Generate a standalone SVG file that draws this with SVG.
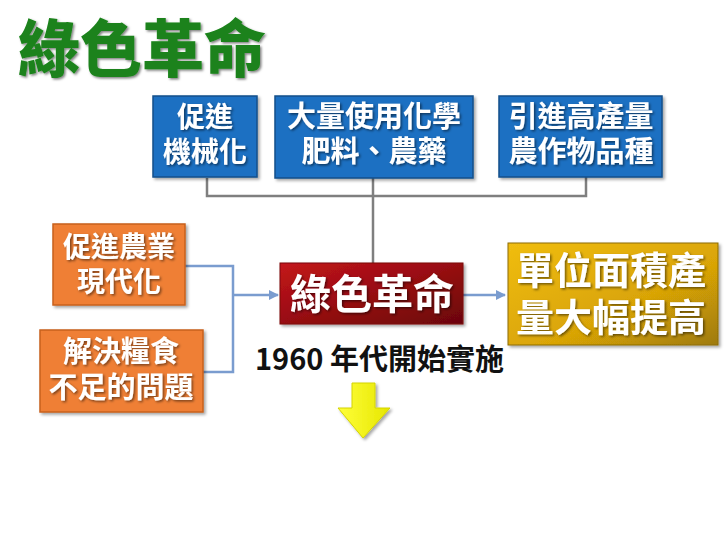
<svg xmlns="http://www.w3.org/2000/svg" width="728" height="546" viewBox="0 0 728 546">
<defs>
  <style>
    .cjk { font-family: "Noto Sans CJK TC", "Noto Sans CJK SC", sans-serif; }
    .wt { fill: #ffffff; font-weight: 700; text-anchor: middle; }
    .blue { fill: #1b6fc2; stroke: #154f8a; stroke-width: 1.5; }
    .orange { fill: #ef7f34; stroke: #c8601c; stroke-width: 1.5; }
    .gline { fill: none; stroke: #7f7f7f; stroke-width: 2.5; }
    .bline { fill: none; stroke: #7a9ccf; stroke-width: 2.5; }
  </style>
  <linearGradient id="redg" x1="0" y1="0" x2="1" y2="1">
    <stop offset="0" stop-color="#c4151b"/>
    <stop offset="1" stop-color="#6a0508"/>
  </linearGradient>
  <linearGradient id="goldg" x1="0" y1="0" x2="1" y2="1">
    <stop offset="0" stop-color="#f0bd12"/>
    <stop offset="0.6" stop-color="#d9a406"/>
    <stop offset="1" stop-color="#9e7a08"/>
  </linearGradient>
  <linearGradient id="yelg" x1="0" y1="0" x2="1" y2="0">
    <stop offset="0" stop-color="#ffff3a"/>
    <stop offset="1" stop-color="#e6e600"/>
  </linearGradient>
  <filter id="ts" x="-10%" y="-10%" width="130%" height="140%">
    <feDropShadow dx="1.5" dy="1.5" stdDeviation="1" flood-color="#000" flood-opacity="0.5"/>
  </filter>
  <filter id="bs" x="-10%" y="-10%" width="130%" height="140%">
    <feDropShadow dx="2" dy="2" stdDeviation="1.5" flood-color="#000" flood-opacity="0.35"/>
  </filter>
  <marker id="ah" viewBox="0 0 10 10" refX="9" refY="5" markerWidth="4" markerHeight="4" orient="auto" markerUnits="strokeWidth">
    <path d="M0,0 L10,5 L0,10 z" fill="#7a9ccf"/>
  </marker>
</defs>
<rect x="0" y="0" width="728" height="546" fill="#ffffff"/>

<g id="title">
  <text x="18" y="72" class="cjk" font-size="62" font-weight="900" fill="#1a821a" filter="url(#ts)">綠色革命</text>
</g>

<g id="connectors">
  <polyline class="gline" points="207,178 207,196 586,196 586,177"/>
  <line class="gline" x1="373" y1="178" x2="373" y2="263"/>
  <polyline class="bline" points="185,266 233,266 233,372 203,372"/>
  <line class="bline" x1="233" y1="295" x2="278" y2="295" marker-end="url(#ah)"/>
  <line class="bline" x1="463" y1="295" x2="505" y2="295" marker-end="url(#ah)"/>
</g>

<g id="n-mech">
  <rect class="blue" x="153" y="96" width="104" height="81" filter="url(#bs)"/>
  <text class="cjk wt" font-size="28" filter="url(#ts)" x="205" y="127">促進</text>
  <text class="cjk wt" font-size="28" filter="url(#ts)" x="205" y="162">機械化</text>
</g>
<g id="n-fert">
  <rect class="blue" x="275" y="96" width="198" height="82" filter="url(#bs)"/>
  <text class="cjk wt" font-size="29" filter="url(#ts)" x="374" y="127">大量使用化學</text>
  <text class="cjk wt" font-size="29" filter="url(#ts)" x="374" y="162">肥料、農藥</text>
</g>
<g id="n-seed">
  <rect class="blue" x="499" y="96" width="163" height="81" filter="url(#bs)"/>
  <text class="cjk wt" font-size="29" filter="url(#ts)" x="581" y="127">引進高產量</text>
  <text class="cjk wt" font-size="29" filter="url(#ts)" x="581" y="162">農作物品種</text>
</g>

<g id="n-modern">
  <rect class="orange" x="53" y="224" width="132" height="81" filter="url(#bs)"/>
  <text class="cjk wt" font-size="28" filter="url(#ts)" x="119" y="257">促進農業</text>
  <text class="cjk wt" font-size="28" filter="url(#ts)" x="119" y="292">現代化</text>
</g>
<g id="n-food">
  <rect class="orange" x="40" y="330" width="163" height="82" filter="url(#bs)"/>
  <text class="cjk wt" font-size="29" filter="url(#ts)" x="121" y="362">解決糧食</text>
  <text class="cjk wt" font-size="29" filter="url(#ts)" x="121" y="398">不足的問題</text>
</g>

<g id="n-green">
  <rect x="280" y="263" width="183" height="61" fill="url(#redg)" stroke="#7a0a0c" stroke-width="1" filter="url(#bs)"/>
  <text x="372" y="309" class="cjk wt" font-size="41" filter="url(#ts)">綠色革命</text>
</g>

<g id="n-yield">
  <rect x="508" y="243" width="210" height="102" fill="url(#goldg)" stroke="#8d6c06" stroke-width="1" filter="url(#bs)"/>
  <text class="cjk wt" font-size="38" filter="url(#ts)" x="611" y="284">單位面積產</text>
  <text class="cjk wt" font-size="38" filter="url(#ts)" x="611" y="331">量大幅提高</text>
</g>

<g id="n-date">
  <text x="255" y="370" class="cjk" font-size="29" font-weight="700" fill="#111111">1960 年代開始實施</text>
</g>

<g id="down-arrow">
  <polygon points="352,383 375,383 375,408 390,408 363,438 338,408 352,408" fill="url(#yelg)" stroke="#d4d400" stroke-width="1" filter="url(#bs)"/>
</g>
</svg>
